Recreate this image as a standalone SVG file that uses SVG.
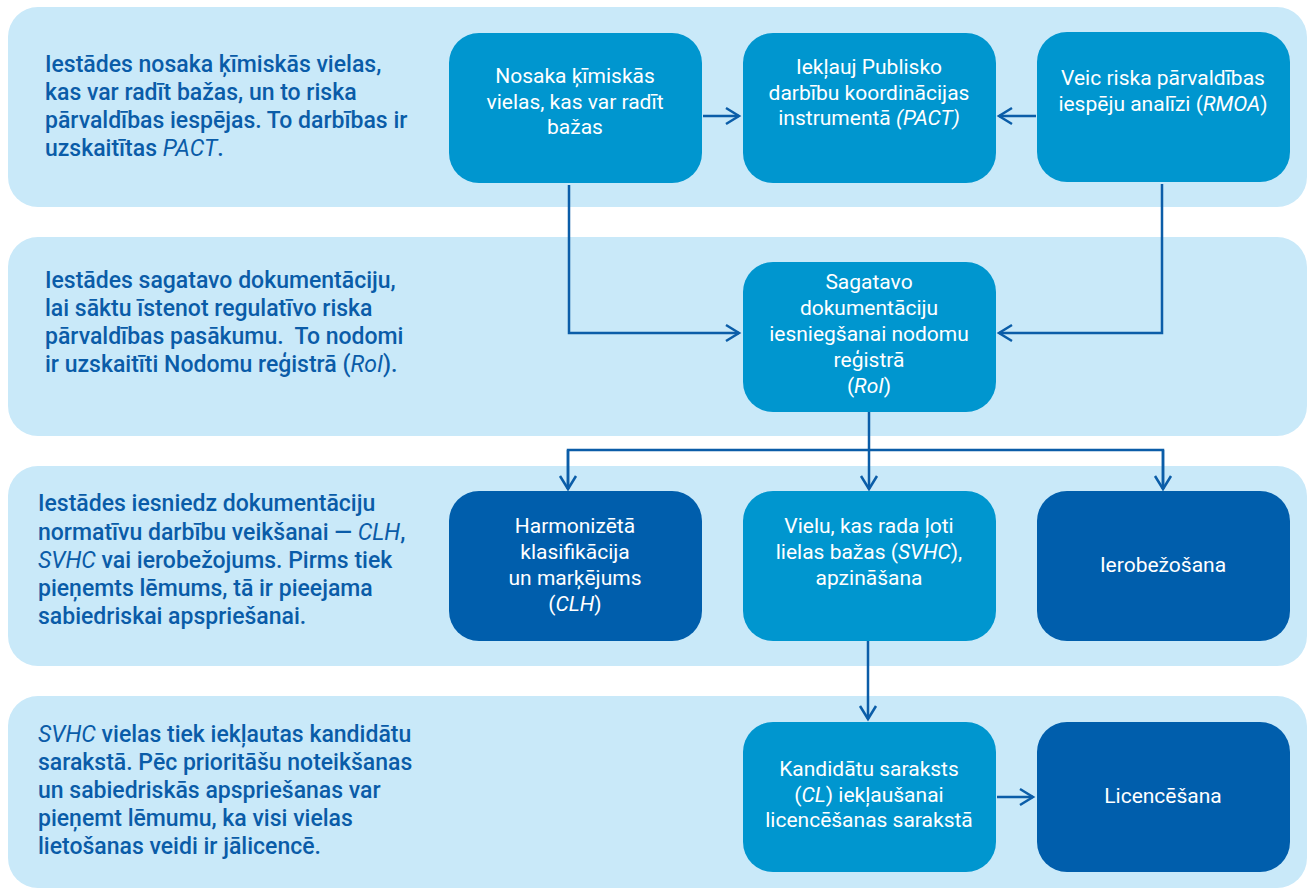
<svg xmlns="http://www.w3.org/2000/svg" width="1309" height="890" viewBox="0 0 1309 890">
<defs>
<style>
.band{fill:#c9e9f9}
.mid{fill:#0096cf}
.dark{fill:#005eac}
.bt{font-family:Roboto,"Liberation Sans",sans-serif;font-size:23px;font-weight:500;fill:#0a5ca8}
.nt{font-family:Roboto,"Liberation Sans",sans-serif;font-size:21px;font-weight:400;fill:#ffffff;text-anchor:middle}
.it{font-style:italic;font-weight:400}
.con{fill:none;stroke:#0b5da8;stroke-width:2.5}
</style>
<marker id="ah" markerUnits="userSpaceOnUse" markerWidth="20" markerHeight="20" viewBox="-15 -10 17 20" refX="0" refY="0" orient="auto">
<path d="M-13,-8 L0,0 L-13,8" fill="none" stroke="#0b5da8" stroke-width="2.5"/>
</marker>
</defs>
<g id="bands">
<rect class="band" x="8" y="7" width="1299" height="200" rx="30"/>
<rect class="band" x="8" y="237" width="1299" height="199" rx="30"/>
<rect class="band" x="8" y="466" width="1299" height="200" rx="30"/>
<rect class="band" x="8" y="696" width="1299" height="192" rx="30"/>
</g>
<g id="band-texts">
<text class="bt" x="45" y="72">Iestādes nosaka ķīmiskās vielas,</text>
<text class="bt" x="45" y="100">kas var radīt bažas, un to riska</text>
<text class="bt" x="45" y="128">pārvaldības iespējas. To darbības ir</text>
<text class="bt" x="45" y="156">uzskaitītas <tspan class="it">PACT</tspan>.</text>
<text class="bt" x="45" y="288">Iestādes sagatavo dokumentāciju,</text>
<text class="bt" x="45" y="316">lai sāktu īstenot regulatīvo riska</text>
<text class="bt" x="45" y="344" xml:space="preserve">pārvaldības pasākumu.  To nodomi</text>
<text class="bt" x="45" y="372">ir uzskaitīti Nodomu reģistrā (<tspan class="it">RoI</tspan>).</text>
<text class="bt" x="38" y="511">Iestādes iesniedz dokumentāciju</text>
<text class="bt" x="38" y="540">normatīvu darbību veikšanai — <tspan class="it">CLH</tspan>,</text>
<text class="bt" x="38" y="568"><tspan class="it">SVHC</tspan> vai ierobežojums. Pirms tiek</text>
<text class="bt" x="38" y="596">pieņemts lēmums, tā ir pieejama</text>
<text class="bt" x="38" y="624">sabiedriskai apspriešanai.</text>
<text class="bt" x="38" y="742"><tspan class="it">SVHC</tspan> vielas tiek iekļautas kandidātu</text>
<text class="bt" x="38" y="770">sarakstā. Pēc prioritāšu noteikšanas</text>
<text class="bt" x="38" y="798">un sabiedriskās apspriešanas var</text>
<text class="bt" x="38" y="826">pieņemt lēmumu, ka visi vielas</text>
<text class="bt" x="38" y="854">lietošanas veidi ir jālicencē.</text>
</g>
<g id="connectors">
<line class="con" x1="703" y1="116" x2="739" y2="116" marker-end="url(#ah)"/>
<line class="con" x1="1036" y1="116" x2="999" y2="116" marker-end="url(#ah)"/>
<polyline class="con" points="569,185 569,333 739,333" marker-end="url(#ah)"/>
<polyline class="con" points="1162,184 1162,333 999,333" marker-end="url(#ah)"/>
<polyline class="con" points="869,412 869,450"/>
<polyline class="con" points="568,489 568,450 1163,450 1163,489"/>
<line class="con" x1="568" y1="450" x2="568" y2="489" marker-end="url(#ah)"/>
<line class="con" x1="869" y1="450" x2="869" y2="489" marker-end="url(#ah)"/>
<line class="con" x1="1163" y1="450" x2="1163" y2="489" marker-end="url(#ah)"/>
<line class="con" x1="868" y1="641" x2="868" y2="719" marker-end="url(#ah)"/>
<line class="con" x1="997" y1="797" x2="1033" y2="797" marker-end="url(#ah)"/>
</g>
<g id="node-identify">
<rect class="mid" x="449" y="33" width="253" height="150" rx="30"/>
<text class="nt" x="575" y="83">Nosaka ķīmiskās</text>
<text class="nt" x="575" y="109">vielas, kas var radīt</text>
<text class="nt" x="575" y="134">bažas</text>
</g>
<g id="node-pact">
<rect class="mid" x="743" y="33" width="253" height="150" rx="30"/>
<text class="nt" x="869" y="74">Iekļauj Publisko</text>
<text class="nt" x="869" y="100">darbību koordinācijas</text>
<text class="nt" x="869" y="125">instrumentā <tspan class="it">(PACT)</tspan></text>
</g>
<g id="node-rmoa">
<rect class="mid" x="1037" y="32" width="253" height="150" rx="30"/>
<text class="nt" x="1163" y="85">Veic riska pārvaldības</text>
<text class="nt" x="1163" y="111">iespēju analīzi (<tspan class="it">RMOA</tspan>)</text>
</g>
<g id="node-roi">
<rect class="mid" x="743" y="262" width="253" height="150" rx="30"/>
<text class="nt" x="869" y="289">Sagatavo</text>
<text class="nt" x="869" y="315">dokumentāciju</text>
<text class="nt" x="869" y="341">iesniegšanai nodomu</text>
<text class="nt" x="869" y="367">reģistrā</text>
<text class="nt" x="869" y="393">(<tspan class="it">RoI</tspan>)</text>
</g>
<g id="node-clh">
<rect class="dark" x="449" y="491" width="253" height="150" rx="30"/>
<text class="nt" x="575" y="533">Harmonizētā</text>
<text class="nt" x="575" y="559">klasifikācija</text>
<text class="nt" x="575" y="585">un marķējums</text>
<text class="nt" x="575" y="611">(<tspan class="it">CLH</tspan>)</text>
</g>
<g id="node-svhc">
<rect class="mid" x="743" y="491" width="253" height="150" rx="30"/>
<text class="nt" x="869" y="533">Vielu, kas rada ļoti</text>
<text class="nt" x="869" y="559">lielas bažas (<tspan class="it">SVHC</tspan>),</text>
<text class="nt" x="869" y="585">apzināšana</text>
</g>
<g id="node-restriction">
<rect class="dark" x="1037" y="491" width="253" height="150" rx="30"/>
<text class="nt" x="1163" y="572">Ierobežošana</text>
</g>
<g id="node-cl">
<rect class="mid" x="743" y="722" width="253" height="150" rx="30"/>
<text class="nt" x="869" y="776">Kandidātu saraksts</text>
<text class="nt" x="869" y="802">(<tspan class="it">CL</tspan>) iekļaušanai</text>
<text class="nt" x="869" y="827">licencēšanas sarakstā</text>
</g>
<g id="node-authorisation">
<rect class="dark" x="1037" y="722" width="253" height="150" rx="30"/>
<text class="nt" x="1163" y="803">Licencēšana</text>
</g>
</svg>
